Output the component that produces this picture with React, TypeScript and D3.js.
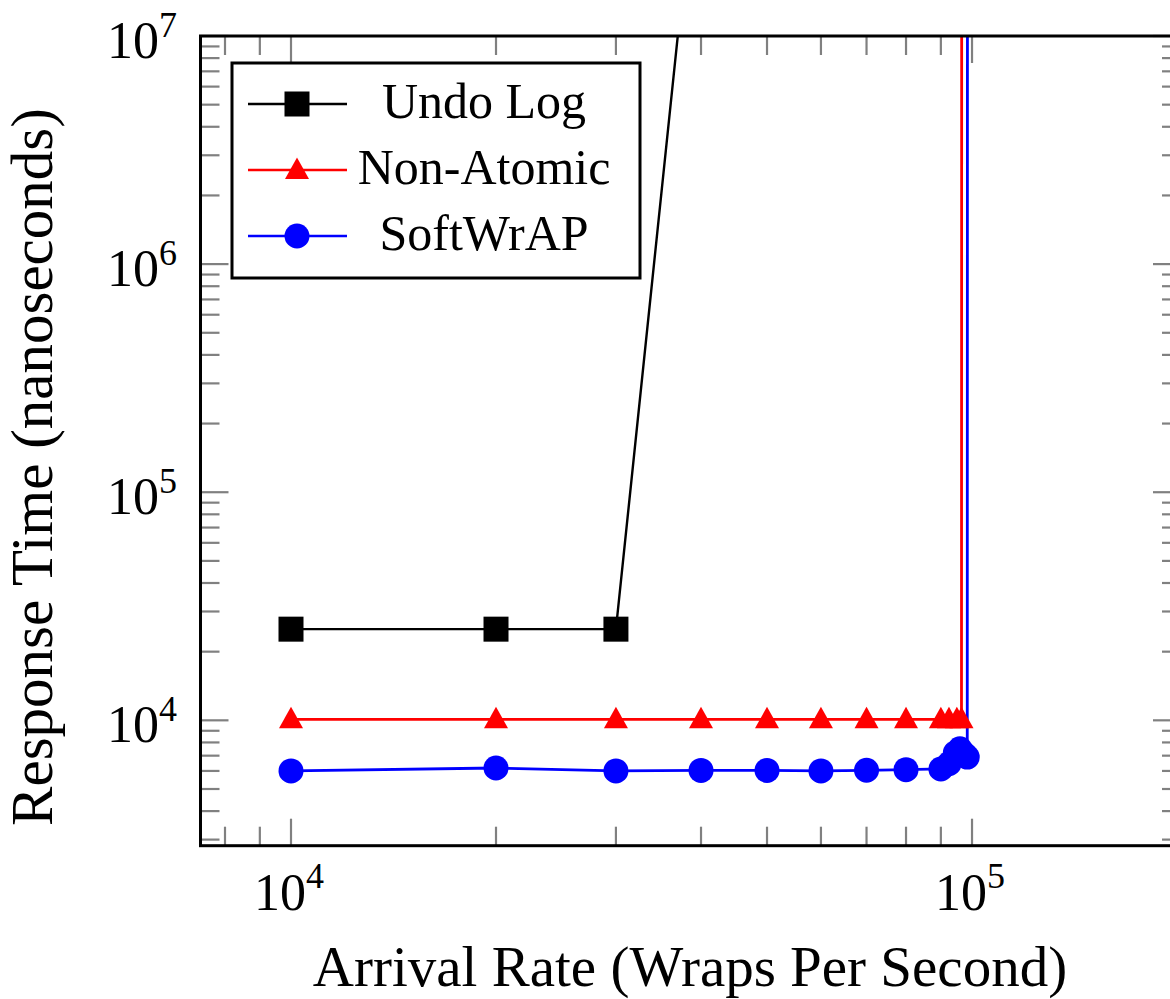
import React, { useRef, useEffect } from "react";
import * as d3 from "d3";

// series labels / styles
const seriesNames = ["Undo Log", "Non-Atomic", "SoftWrAP"];
const seriesColors = ["#000000", "#ff0000", "#0000ff"];
const seriesMarks = ["square", "triangle", "circle"];
const seriesWidths = [2.4, 2.8, 2.8];

// values (x = wraps/s, y = ns)
const undoX = [10000, 20000, 30000, 40000];
const undoY = [25100, 25100, 25100, 9.5e7];
const nonAtomicX = [10000, 20000, 30000, 40000, 50000, 60000, 70000, 80000, 90000, 92500, 95000, 96500, 96600];
const nonAtomicY = [10100, 10100, 10100, 10100, 10100, 10100, 10100, 10100, 10100, 10100, 10100, 10100, 1e9];
const softX = [10000, 20000, 30000, 40000, 50000, 60000, 70000, 80000, 90000, 92500, 94500, 96000, 97500, 98400, 98500];
const softY = [6000, 6180, 6000, 6030, 6030, 6000, 6040, 6080, 6120, 6450, 7200, 7500, 7100, 6900, 1e9];

const xDomain = [7364, 202700];
const yDomain = [2821, 1e7];
const xMajor = [1e4, 1e5];
const yMajor = [1e4, 1e5, 1e6, 1e7];
const xLabel = "Arrival Rate (Wraps Per Second)";
const yLabel = "Response Time (nanoseconds)";

const W = 1170, H = 999;
const FONT = "'Liberation Serif', 'Times New Roman', serif";

export default function App() {
  const ref = useRef<SVGSVGElement>(null);

  useEffect(() => {
    const svg = d3.select(ref.current);
    svg.selectAll("*").remove();

    const left = 200.5, right = 1181, top = 36, bottom = 845.7;
    const x = d3.scaleLog().domain(xDomain).range([left, right]);
    const y = d3.scaleLog().domain(yDomain).range([bottom, top]);

    // clip for the plot area
    svg.append("defs").append("clipPath").attr("id", "plotclip")
      .append("rect").attr("x", left).attr("y", top)
      .attr("width", right - left).attr("height", bottom - top);

    // ticks (inside, all four sides)
    const tickG = svg.append("g").attr("stroke", "#808080").attr("stroke-width", 2.2);
    x.ticks().forEach((t) => {
      const major = xMajor.some((m) => Math.abs(m - t) < 1e-6 * m);
      const len = major ? 27 : 19;
      const px = x(t);
      tickG.append("line").attr("x1", px).attr("x2", px).attr("y1", bottom).attr("y2", bottom - len);
      tickG.append("line").attr("x1", px).attr("x2", px).attr("y1", top).attr("y2", top + len);
    });
    y.ticks().forEach((t) => {
      const major = yMajor.some((m) => Math.abs(m - t) < 1e-6 * m);
      const len = major ? 28 : 19;
      const py = y(t);
      tickG.append("line").attr("y1", py).attr("y2", py).attr("x1", left).attr("x2", left + len);
      tickG.append("line").attr("y1", py).attr("y2", py).attr("x1", right).attr("x2", right - len);
    });

    // tick labels
    xMajor.forEach((t) => {
      const tx = svg.append("text")
        .attr("x", x(t) - 2).attr("y", bottom + 64)
        .attr("text-anchor", "middle")
        .attr("font-family", FONT).attr("font-size", 52).attr("fill", "#000");
      tx.append("tspan").text("10");
      tx.append("tspan").attr("dy", -22).attr("font-size", 36).text(String(Math.round(Math.log10(t))));
    });
    yMajor.forEach((t) => {
      const ty = svg.append("text")
        .attr("x", 177).attr("y", y(t) + 22)
        .attr("text-anchor", "end")
        .attr("font-family", FONT).attr("font-size", 52).attr("fill", "#000");
      ty.append("tspan").text("10");
      ty.append("tspan").attr("dy", -21).attr("font-size", 36).text(String(Math.round(Math.log10(t))));
    });

    // axis labels
    svg.append("text")
      .attr("x", 690).attr("y", 986)
      .attr("text-anchor", "middle")
      .attr("font-family", FONT).attr("font-size", 57)
      .text(xLabel);
    svg.append("text")
      .attr("transform", `translate(52, 467) rotate(-90)`)
      .attr("text-anchor", "middle")
      .attr("font-family", FONT).attr("font-size", 59)
      .text(yLabel);

    // data
    const series = [
      { xs: undoX, ys: undoY },
      { xs: nonAtomicX, ys: nonAtomicY },
      { xs: softX, ys: softY },
    ];
    const plotG = svg.append("g").attr("clip-path", "url(#plotclip)");
    const line = d3.line<[number, number]>().x((d) => x(d[0])).y((d) => y(d[1]));

    series.forEach((s, i) => {
      const pts = s.xs.map((v, k) => [v, s.ys[k]] as [number, number]);
      plotG.append("path")
        .attr("d", line(pts))
        .attr("fill", "none")
        .attr("stroke", seriesColors[i])
        .attr("stroke-width", seriesWidths[i]);
    });

    const drawMark = (g: any, kind: string, cx: number, cy: number, color: string) => {
      if (kind === "square") {
        g.append("rect").attr("x", cx - 12.5).attr("y", cy - 12.5)
          .attr("width", 25).attr("height", 25).attr("fill", color);
      } else if (kind === "triangle") {
        g.append("path")
          .attr("d", `M${cx},${cy - 12.5}L${cx + 12},${cy + 9}L${cx - 12},${cy + 9}Z`)
          .attr("fill", color);
      } else {
        g.append("circle").attr("cx", cx).attr("cy", cy).attr("r", 12.5).attr("fill", color);
      }
    };

    series.forEach((s, i) => {
      s.xs.forEach((v, k) => {
        drawMark(plotG, seriesMarks[i], x(v), y(s.ys[k]), seriesColors[i]);
      });
    });

    // frame
    svg.append("rect")
      .attr("x", left).attr("y", top)
      .attr("width", right - left).attr("height", bottom - top)
      .attr("fill", "none").attr("stroke", "#000").attr("stroke-width", 3);

    // legend
    const lg = svg.append("g");
    lg.append("rect")
      .attr("x", 232).attr("y", 63).attr("width", 408).attr("height", 215)
      .attr("fill", "#fff").attr("stroke", "#000").attr("stroke-width", 3);
    seriesNames.forEach((name, i) => {
      const ly = 104 + i * 66;
      lg.append("line").attr("x1", 248).attr("x2", 347).attr("y1", ly).attr("y2", ly)
        .attr("stroke", seriesColors[i]).attr("stroke-width", 2.4);
      drawMark(lg, seriesMarks[i], 297, ly, seriesColors[i]);
      lg.append("text")
        .attr("x", 484).attr("y", ly + 14)
        .attr("text-anchor", "middle")
        .attr("font-family", FONT).attr("font-size", 50)
        .text(name);
    });
  }, []);

  return (
    <svg ref={ref} width={W} height={H} style={{ position: "absolute", left: 0, top: 0, background: "#fff" }} />
  );
}
